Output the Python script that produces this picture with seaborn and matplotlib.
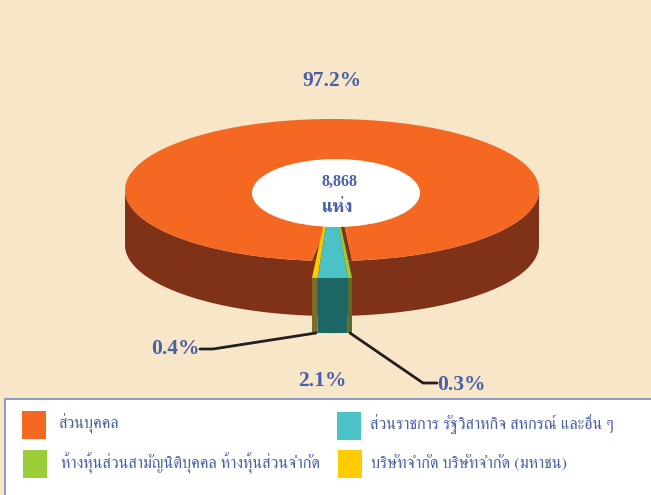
import numpy as np
import matplotlib
matplotlib.use("Agg")
import matplotlib.pyplot as plt
from matplotlib.patches import Ellipse, Polygon, Rectangle
import seaborn as sns

# shares in percent, clockwise from the big slice
categories = ["ส่วนบุคคล", "บริษัทจำกัด บริษัทจำกัด (มหาชน)", "ส่วนราชการ รัฐวิสาหกิจ สหกรณ์ และอื่น ๆ",
              "ห้างหุ้นส่วนสามัญนิติบุคคล ห้างหุ้นส่วนจำกัด"]
shares = [97.2, 0.4, 2.1, 0.3]
share_labels = ["97.2%", "0.4%", "2.1%", "0.3%"]
total_label = "8,868"
unit_label = "แห่ง"
top_colors = ["#f56821", "#ffcc00", "#4ac2c6", "#9acd38"]
side_colors = ["#803218", "#7d6b2a", "#1c6666", "#5f6b2d"]

BG = "#f8e6c8"
TEXT = "#4a5fa8"

sns.set_theme(style="white")
plt.rcParams["font.family"] = ["FreeSerif", "Liberation Serif", "DejaVu Sans"]

fig = plt.figure(figsize=(6.51, 4.95), dpi=100, facecolor=BG)
ax = fig.add_axes([0, 0, 1, 1])
ax.set_xlim(0, 651)
ax.set_ylim(495, 0)
ax.axis("off")

cx, cy, rx, ry = 332, 190, 207, 71
hx, hy, hrx, hry = 336, 193, 84, 34
depth, explode, grow = 55, 10, 1.1


def arc(a, b, w, h, dy=0, n=200, x0=cx, y0=cy):
    t = np.linspace(a, b, n)
    return np.column_stack([x0 + w * np.cos(t), y0 + dy + h * np.sin(t)])


# angles: screen coordinates, 90 deg is the front of the ring
fr = np.array(shares) / sum(shares) * 2 * np.pi
small = fr[1:].sum()
margin = 0.01
start = np.pi / 2 + small / 2

# side wall, then top of the big slice
ax.add_patch(Polygon(np.vstack([arc(0, np.pi, rx, ry), arc(np.pi, 0, rx, ry, depth)]), fc=side_colors[0], ec="none"))
ax.add_patch(Polygon(np.vstack([arc(np.pi / 2 - small / 2 - margin, start + margin, rx, ry),
                                arc(start + margin, np.pi / 2 - small / 2 - margin, 80, 30, x0=hx, y0=hy)]),
                     fc=side_colors[0], ec="none"))
ax.add_patch(Polygon(np.vstack([arc(start + margin, start + margin + fr[0] - 2 * margin, rx, ry),
                                arc(start + margin + fr[0] - 2 * margin, start + margin, 80, 30, x0=hx, y0=hy)]),
                     fc=top_colors[0], ec="none"))

# small slices pulled out to the front
a = start
for f, top, side in zip(fr[1:], top_colors[1:], side_colors[1:]):
    b = a - f
    ax.add_patch(Polygon(np.vstack([arc(a, b, rx * grow, ry * grow, explode),
                                    arc(b, a, rx * grow, ry * grow, explode + depth)]), fc=side, ec="none"))
    ax.add_patch(Polygon(np.vstack([arc(a, b, rx * grow, ry * grow, explode), arc(b, a, 84, 30)]), fc=top, ec="none"))
    a = b

ax.add_patch(Ellipse((hx, hy), hrx * 2, hry * 2, fc="white", ec="none"))

# leader lines
ax.plot([316, 213, 200], [333, 349, 349], color="#231f20", lw=2)
ax.plot([350, 423, 437], [333, 383, 383], color="#231f20", lw=2)

label_pos = [(332, 81), (175, 349), (322, 381), (461, 385)]
for s, (x, y) in zip(share_labels, label_pos):
    ax.text(x, y, s, ha="center", va="center", color=TEXT, fontsize=15.5, fontweight="bold", family="Liberation Serif")
ax.text(339, 182, total_label, ha="center", va="center", color=TEXT, fontsize=11.5, fontweight="bold", family="Liberation Serif")
ax.text(338, 208, unit_label, ha="center", va="center", color=TEXT, fontsize=13, fontweight="bold")

# legend box
ax.add_patch(Rectangle((5, 399), 660, 110, fc="white", ec="#8094c8", lw=1.3))
legend_pos = [(22, 411, 58, 424), (338, 450, 371, 463), (337, 412, 370, 424), (23, 450, 61, 463)]
for name, col, (sx, sy, tx, ty) in zip(categories, top_colors, legend_pos):
    ax.add_patch(Rectangle((sx, sy), 24, 28, fc=col, ec="none"))
    ax.text(tx, ty, name, ha="left", va="center", color=TEXT, fontsize=11.7)

fig.savefig("out.png", dpi=100, facecolor=BG)
